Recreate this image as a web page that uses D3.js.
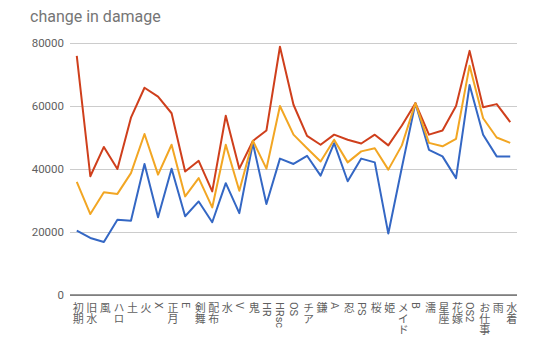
<!DOCTYPE html>
<html>
<head>
<meta charset="utf-8">
<script src="https://cdn.jsdelivr.net/npm/d3@7"></script>
<style>
  body { margin: 0; background: #fff; }
  #chart { position: relative; width: 559px; height: 351px; }
  svg { display: block; font-family: Roboto, "Noto Sans CJK JP", sans-serif; }
  .xLabel {
    position: absolute;
    writing-mode: vertical-rl;
    text-orientation: mixed;
    font-family: Roboto, "Noto Sans CJK JP", sans-serif;
    font-size: 11px;
    line-height: 11px;
    color: #5f5f5f;
    transform: translateX(-50%);
    white-space: nowrap;
  }
</style>
</head>
<body>
<div id="chart"></div>
<script>
"use strict";

// categories along the x axis
const categories = ["初期", "旧水", "風", "ハロ", "土", "火", "X", "正月", "E", "剣舞", "配布", "水",
  "V", "鬼", "HR", "HRsc", "OS", "チア", "鎌", "A", "忍", "PS", "桜", "姫", "メイド", "B",
  "濡", "星座", "花嫁", "OS2", "お仕事", "雨", "水着"];

// series values
const blueValues = [20400, 18100, 16800, 23900, 23600, 41600, 24700, 40100, 25000, 29700, 23100, 35500,
  26000, 48200, 28900, 43300, 41600, 44200, 37900, 48200, 36100, 43300, 42100, 19500, 40500, 60900,
  46100, 44000, 37100, 66700, 50900, 44000, 44000];
const redValues = [75900, 37700, 47000, 40000, 56300, 65800, 63000, 57700, 39200, 42600, 32900, 56900,
  40100, 48900, 52200, 78800, 60400, 50500, 47700, 50900, 49300, 48100, 50900, 47500, 53800, 60900,
  50900, 52200, 60000, 77500, 59600, 60600, 54900];
const yellowValues = [35900, 25700, 32600, 32100, 38700, 51100, 38200, 47700, 31300, 37100, 27800, 47700,
  33100, 49000, 40100, 60000, 50900, 46600, 42400, 49300, 42100, 45600, 46600, 39800, 47500, 60900,
  48300, 47200, 49600, 72800, 56100, 50000, 48300];

const yTicks = [0, 20000, 40000, 60000, 80000];

const width = 559, height = 351;
let margin = {top: 43, right: 42, bottom: 56, left: 70};
let plotW = width - margin.left - margin.right;
let plotH = height - margin.top - margin.bottom;

let svg = d3.select("#chart").append("svg")
  .attr("width", width)
  .attr("height", height);

// Title
svg.append("text")
  .attr("x", 30)
  .attr("y", 22)
  .style("font-size", "16px")
  .style("fill", "#757575")
  .text("change in damage");

let g = svg.append("g")
  .attr("transform", `translate(${margin.left},${margin.top})`);

let xScale = d3.scalePoint().domain(categories).range([0, plotW]).padding(0.5);
let yScale = d3.scaleLinear().domain([0, 80000]).range([plotH, 0]);

// Y gridlines + labels
let yAxis = d3.axisLeft(yScale).tickValues(yTicks).tickSize(-plotW).tickPadding(6).tickFormat(d3.format("d"));
g.append("g")
  .attr("class", "yAxis")
  .call(yAxis)
  .call(a => a.select(".domain").remove())
  .call(a => a.selectAll("line").attr("stroke", "#cccccc"))
  .call(a => a.selectAll("text")
    .style("font-size", "11.5px")
    .style("fill", "#5f5f5f")
    .style("font-family", "Roboto, sans-serif"));

// baseline
g.append("line")
  .attr("x1", 0).attr("x2", plotW)
  .attr("y1", yScale(0)).attr("y2", yScale(0))
  .attr("stroke", "#333333");

// X labels: vertical text (CJK upright, latin turned), placed with the point scale
d3.select("#chart").selectAll(".xLabel").data(categories)
  .enter()
  .append("div")
  .attr("class", "xLabel")
  .style("left", c => (margin.left + xScale(c)) + "px")
  .style("top", (margin.top + plotH + 7) + "px")
  .text(c => c);

// Lines
let line = d3.line()
  .x((d, i) => xScale(categories[i]))
  .y(d => yScale(d));

let series = [
  {values: blueValues, color: "#3467c4"},
  {values: redValues, color: "#cf3f1c"},
  {values: yellowValues, color: "#f2a623"}
];

g.selectAll(".line").data(series)
  .enter()
  .append("path")
  .attr("class", "line")
  .attr("d", s => line(s.values))
  .attr("fill", "none")
  .attr("stroke", s => s.color)
  .attr("stroke-width", 2)
  .attr("stroke-linejoin", "round");
</script>
</body>
</html>
